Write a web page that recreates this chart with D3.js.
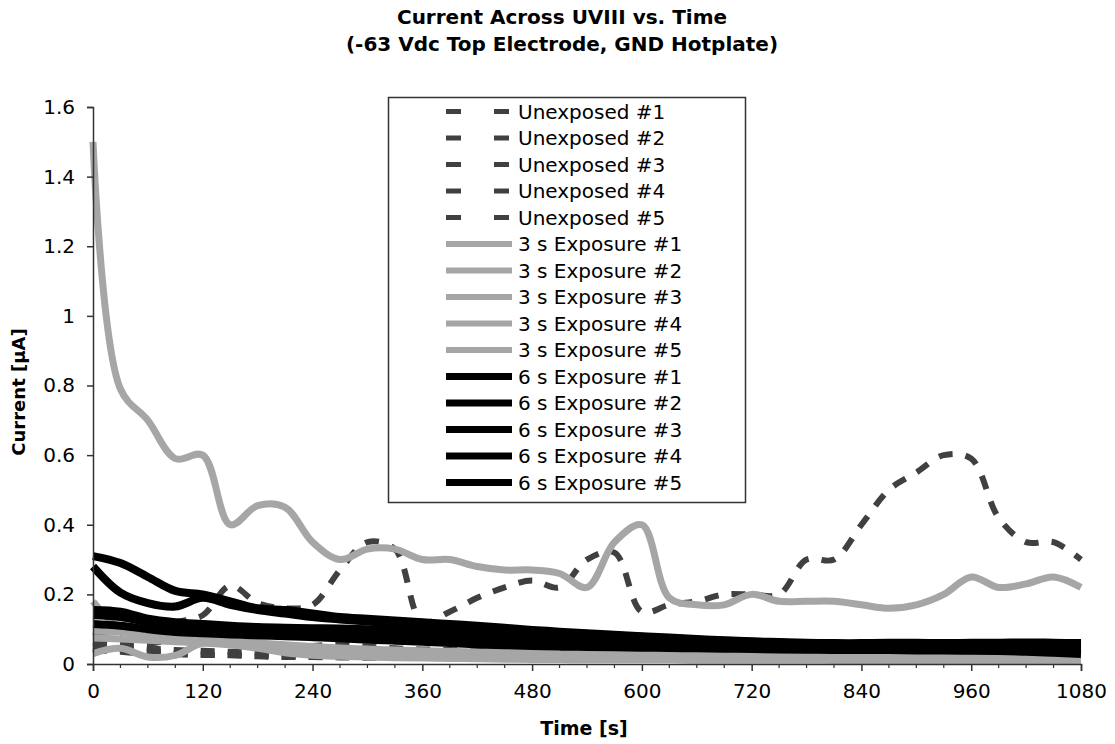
<!DOCTYPE html>
<html>
<head>
<meta charset="utf-8">
<script src="https://cdn.jsdelivr.net/npm/d3@7"></script>
<style>
  html, body { margin: 0; padding: 0; background: #fff; }
  svg { display: block; }
  text { font-family: "DejaVu Sans", Verdana, sans-serif; fill: #000; }
</style>
</head>
<body>
<svg id="chart" width="1115" height="744"></svg>
<script>
// ---------------- DATA ----------------
const titleLines = ["Current Across UVIII vs. Time", "(-63 Vdc Top Electrode, GND Hotplate)"];
const xTitle = "Time [s]";
const yTitle = "Current [µA]";
const xTickValues = [0, 120, 240, 360, 480, 600, 720, 840, 960, 1080];
const yTickValues = [0, 0.2, 0.4, 0.6, 0.8, 1, 1.2, 1.4, 1.6];

const times = [0,30,60,90,120,150,180,210,240,270,300,330,360,390,420,450,480,510,540,570,600,630,660,690,720,750,780,810,840,870,900,930,960,990,1020,1050,1080];

const unexposed1 = [0.08,0.09,0.10,0.12,0.14,0.225,0.175,0.16,0.17,0.27,0.35,0.33,0.12,0.15,0.19,0.22,0.24,0.22,0.30,0.32,0.15,0.17,0.18,0.20,0.20,0.20,0.30,0.30,0.40,0.50,0.55,0.60,0.59,0.42,0.35,0.35,0.30];
const unexposed2 = [0.05,0.04,0.04,0.03,0.027,0.026,0.022,0.02,0.02,0.019,0.018,0.018,0.017,0.017,0.016,0.016,0.015,0.015,0.015,0.015,0.014,0.014,0.014,0.014,0.013,0.013,0.013,0.013,0.013,0.012,0.012,0.012,0.012,0.012,0.012,0.012,0.012];
const unexposed3 = [0.065,0.06,0.058,0.07,0.068,0.062,0.058,0.053,0.052,0.057,0.05,0.045,0.042,0.04,0.038,0.036,0.035,0.034,0.033,0.032,0.031,0.03,0.03,0.029,0.029,0.028,0.028,0.027,0.027,0.027,0.026,0.026,0.026,0.026,0.025,0.025,0.025];
const unexposed4 = [0.04,0.035,0.03,0.028,0.026,0.025,0.024,0.023,0.022,0.021,0.02,0.02,0.019,0.019,0.018,0.018,0.018,0.017,0.017,0.017,0.016,0.016,0.016,0.016,0.016,0.015,0.015,0.015,0.015,0.015,0.015,0.015,0.014,0.014,0.014,0.014,0.014];
const unexposed5 = [0.06,0.05,0.045,0.04,0.038,0.035,0.033,0.03,0.029,0.028,0.027,0.026,0.025,0.024,0.023,0.023,0.022,0.022,0.021,0.021,0.02,0.02,0.02,0.02,0.019,0.019,0.019,0.019,0.018,0.018,0.018,0.018,0.018,0.018,0.017,0.017,0.017];

const exp3s1 = [1.50,0.79,0.70,0.59,0.60,0.40,0.455,0.45,0.35,0.30,0.33,0.33,0.30,0.30,0.28,0.27,0.27,0.26,0.22,0.35,0.40,0.19,0.17,0.17,0.20,0.18,0.18,0.18,0.17,0.16,0.17,0.20,0.25,0.22,0.23,0.25,0.22];
const exp3s2 = [0.18,0.10,0.085,0.075,0.07,0.065,0.06,0.055,0.05,0.046,0.043,0.04,0.038,0.036,0.035,0.034,0.033,0.032,0.031,0.03,0.03,0.029,0.028,0.028,0.027,0.027,0.026,0.026,0.025,0.025,0.024,0.024,0.023,0.022,0.022,0.021,0.02];
const exp3s3 = [0.095,0.092,0.085,0.076,0.068,0.062,0.057,0.05,0.045,0.041,0.038,0.035,0.033,0.031,0.03,0.029,0.028,0.027,0.026,0.025,0.025,0.024,0.024,0.023,0.023,0.022,0.022,0.021,0.021,0.021,0.02,0.02,0.02,0.019,0.019,0.018,0.018];
const exp3s4 = [0.075,0.072,0.068,0.064,0.06,0.055,0.048,0.04,0.035,0.031,0.028,0.026,0.024,0.022,0.02,0.019,0.018,0.018,0.017,0.017,0.017,0.016,0.016,0.016,0.015,0.015,0.015,0.014,0.014,0.014,0.013,0.013,0.013,0.013,0.012,0.012,0.012];
const exp3s5 = [0.03,0.045,0.02,0.025,0.06,0.055,0.045,0.032,0.025,0.022,0.02,0.018,0.017,0.016,0.015,0.014,0.013,0.013,0.012,0.012,0.012,0.012,0.011,0.011,0.011,0.011,0.011,0.01,0.01,0.01,0.01,0.01,0.01,0.01,0.01,0.01,0.01];

const exp6s1 = [0.31,0.29,0.25,0.21,0.20,0.18,0.16,0.155,0.145,0.135,0.13,0.125,0.12,0.115,0.11,0.104,0.098,0.093,0.088,0.084,0.08,0.076,0.072,0.068,0.065,0.063,0.061,0.06,0.06,0.061,0.061,0.06,0.061,0.061,0.062,0.061,0.06];
const exp6s2 = [0.28,0.205,0.175,0.165,0.19,0.17,0.155,0.145,0.135,0.128,0.122,0.117,0.112,0.107,0.102,0.098,0.094,0.09,0.086,0.082,0.078,0.074,0.07,0.067,0.064,0.062,0.06,0.058,0.057,0.057,0.056,0.056,0.057,0.057,0.057,0.056,0.055];
const exp6s3 = [0.155,0.15,0.13,0.12,0.115,0.11,0.106,0.104,0.103,0.102,0.1,0.098,0.095,0.092,0.089,0.086,0.083,0.08,0.077,0.074,0.071,0.068,0.065,0.062,0.06,0.058,0.056,0.055,0.054,0.054,0.054,0.054,0.054,0.053,0.052,0.05,0.049];
const exp6s4 = [0.14,0.135,0.12,0.11,0.105,0.1,0.096,0.094,0.092,0.09,0.087,0.084,0.081,0.078,0.075,0.072,0.069,0.066,0.063,0.06,0.058,0.056,0.054,0.052,0.05,0.049,0.048,0.047,0.046,0.046,0.045,0.045,0.045,0.044,0.043,0.042,0.041];
const exp6s5 = [0.115,0.11,0.1,0.092,0.088,0.085,0.082,0.08,0.077,0.074,0.07,0.067,0.064,0.06,0.056,0.054,0.052,0.05,0.049,0.048,0.047,0.046,0.045,0.044,0.043,0.042,0.041,0.04,0.04,0.04,0.039,0.039,0.038,0.037,0.035,0.032,0.029];

const seriesNames = ["Unexposed #1","Unexposed #2","Unexposed #3","Unexposed #4","Unexposed #5",
  "3 s Exposure #1","3 s Exposure #2","3 s Exposure #3","3 s Exposure #4","3 s Exposure #5",
  "6 s Exposure #1","6 s Exposure #2","6 s Exposure #3","6 s Exposure #4","6 s Exposure #5"];
const seriesValues = [unexposed1, unexposed2, unexposed3, unexposed4, unexposed5,
  exp3s1, exp3s2, exp3s3, exp3s4, exp3s5,
  exp6s1, exp6s2, exp6s3, exp6s4, exp6s5];
const seriesGroup = ["u","u","u","u","u","g","g","g","g","g","b","b","b","b","b"];

// ---------------- STYLE ----------------
const styles = {
  u: { color: "#404040", width: 6, dash: "14,13" },
  g: { color: "#a6a6a6", width: 7, dash: null },
  b: { color: "#000000", width: 8, dash: null }
};

const svg = d3.select("#chart");
const margin = { left: 93, right: 1081, top: 107, bottom: 664 };

const x = d3.scaleLinear().domain([0, 1080]).range([margin.left, margin.right]);
const y = d3.scaleLinear().domain([0, 1.6]).range([margin.bottom, margin.top]);

// Title
svg.append("g").selectAll("text").data(titleLines).join("text")
  .attr("x", 562).attr("y", (d, i) => 24 + i * 27)
  .attr("text-anchor", "middle")
  .attr("font-size", 20).attr("font-weight", "bold")
  .text(d => d);

// Lines
const line = d3.line()
  .x((d, i) => x(times[i]))
  .y(d => y(d))
  .curve(d3.curveCatmullRom.alpha(0.5));

const plot = svg.append("g");
seriesValues.forEach((vals, k) => {
  const st = styles[seriesGroup[k]];
  plot.append("path")
    .attr("d", line(vals))
    .attr("fill", "none")
    .attr("stroke", st.color)
    .attr("stroke-width", st.width)
    .attr("stroke-linejoin", "round")
    .attr("stroke-dasharray", st.dash);
});

// Axes
const xAxis = d3.axisBottom(x).tickValues(xTickValues).tickSize(7).tickPadding(13).tickFormat(d3.format("d"));
const gx = svg.append("g").attr("transform", `translate(0,${margin.bottom})`).call(xAxis);
gx.select(".domain").attr("stroke", "#333").attr("stroke-width", 1.5);
gx.selectAll(".tick line").attr("stroke", "#333").attr("stroke-width", 1.5);
gx.selectAll("text").attr("font-size", 20).attr("font-family", "DejaVu Sans, Verdana, sans-serif").attr("fill", "#000");

const minorTicks = d3.range(0, 1081, 30).filter(t => t % 120 !== 0);
svg.append("g").selectAll("line").data(minorTicks).join("line")
  .attr("x1", d => x(d)).attr("x2", d => x(d))
  .attr("y1", margin.bottom).attr("y2", margin.bottom + 4)
  .attr("stroke", "#333").attr("stroke-width", 1.2);

const yAxis = d3.axisLeft(y).tickValues(yTickValues).tickSize(6).tickPadding(12).tickFormat(d => d3.format("")(+d.toFixed(1)));
const gy = svg.append("g").attr("transform", `translate(${margin.left},0)`).call(yAxis);
gy.select(".domain").attr("stroke", "#333").attr("stroke-width", 1.5);
gy.selectAll(".tick line").attr("stroke", "#333").attr("stroke-width", 1.5);
gy.selectAll("text").attr("font-size", 20).attr("font-family", "DejaVu Sans, Verdana, sans-serif").attr("fill", "#000");

// Axis titles
svg.append("text").attr("x", 584).attr("y", 735).attr("text-anchor", "middle")
  .attr("font-size", 19).attr("font-weight", "bold").text(xTitle);
svg.append("text").attr("transform", "translate(25,392) rotate(-90)").attr("text-anchor", "middle")
  .attr("font-size", 18).attr("font-weight", "bold").text(yTitle);

// Legend
const lg = svg.append("g");
lg.append("rect").attr("x", 388.5).attr("y", 97.5).attr("width", 357).attr("height", 405)
  .attr("fill", "#fff").attr("stroke", "#333").attr("stroke-width", 1.5);
const rowY = i => 111.5 + i * 26.5;
seriesNames.forEach((name, i) => {
  const st = styles[seriesGroup[i]];
  if (st.dash) {
    lg.append("line").attr("x1", 446).attr("x2", 461).attr("y1", rowY(i)).attr("y2", rowY(i))
      .attr("stroke", st.color).attr("stroke-width", 5);
    lg.append("line").attr("x1", 494).attr("x2", 509).attr("y1", rowY(i)).attr("y2", rowY(i))
      .attr("stroke", st.color).attr("stroke-width", 5);
  } else {
    lg.append("line").attr("x1", 446).attr("x2", 512).attr("y1", rowY(i)).attr("y2", rowY(i))
      .attr("stroke", st.color).attr("stroke-width", st.width - 1);
  }
  lg.append("text").attr("x", 518).attr("y", rowY(i)).attr("dy", "0.36em")
    .attr("font-size", 20).text(name);
});
</script>
</body>
</html>
